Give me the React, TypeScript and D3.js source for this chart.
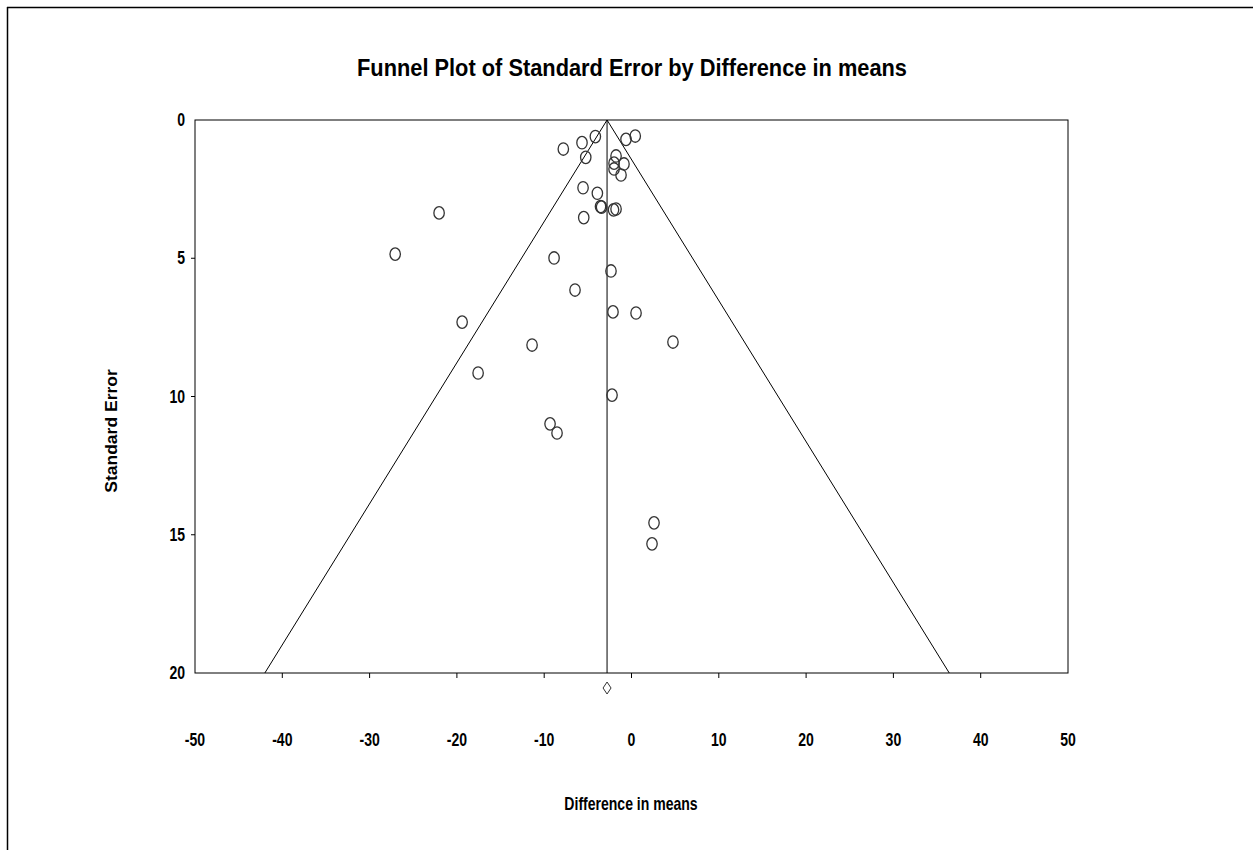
import React from "react";
import * as d3 from "d3";

const xTicks = [-50, -40, -30, -20, -10, 0, 10, 20, 30, 40, 50];
const yTicks = [0, 5, 10, 15, 20];

// Difference in means (x) and standard error (y) of each study
const diffs = [
  0.43, -0.63, -4.14, -5.67, -7.81, -5.24, -1.77, -2.0, -0.86, -2.0, -1.2,
  -5.55, -3.91, -3.55, -3.43, -2.06, -1.77, -22.04, -5.47, -27.07, -8.87,
  -2.35, -6.47, -2.12, 0.52, -19.4, 4.75, -11.39, -17.57, -2.23, -9.33,
  -8.53, 2.58, 2.35,
];
const stdErrs = [
  0.58, 0.7, 0.6, 0.82, 1.05, 1.35, 1.3, 1.56, 1.59, 1.77, 1.99, 2.45, 2.65,
  3.13, 3.15, 3.25, 3.22, 3.36, 3.53, 4.85, 4.99, 5.46, 6.15, 6.94, 6.98,
  7.31, 8.03, 8.14, 9.15, 9.95, 10.99, 11.32, 14.57, 15.33,
];
const pooledMean = -2.8;
const zCrit = 1.96;
const seMax = 20;

const W = 1253;
const H = 850;
const left = 195;
const right = 1068;
const top = 120;
const bottom = 673;
const font = "Arial, 'Liberation Sans', sans-serif";

function CText(props: {
  x: number;
  y: number;
  size: number;
  anchor?: string;
  rotate?: number;
  squeeze?: number;
  children: React.ReactNode;
}) {
  const { x, y, size, anchor = "middle", rotate = 0, squeeze = 0.78, children } = props;
  return (
    <text
      transform={`translate(${x},${y}) rotate(${rotate}) scale(${squeeze},1)`}
      textAnchor={anchor}
      fontFamily={font}
      fontWeight="bold"
      fontSize={size}
      fill="#000"
    >
      {children}
    </text>
  );
}

export default function App() {
  const x = d3.scaleLinear().domain([-50, 50]).range([left, right]);
  const y = d3.scaleLinear().domain([0, 20]).range([top, bottom]);

  const funnel = d3.line<[number, number]>()
    .x((d) => x(d[0]))
    .y((d) => y(d[1]))([
    [pooledMean - zCrit * seMax, seMax],
    [pooledMean, 0],
    [pooledMean + zCrit * seMax, seMax],
  ]);

  const mx = x(pooledMean);
  const dy = bottom + 15;

  return (
    <svg
      width={W}
      height={H}
      style={{ position: "absolute", left: 0, top: 0, background: "#fff" }}
    >
      <rect width={W} height={H} fill="#fff" />
      {/* outer frame (top and left edges visible) */}
      <line x1={7} y1={7.5} x2={W} y2={7.5} stroke="#000" strokeWidth={1.5} />
      <line x1={7.5} y1={7} x2={7.5} y2={H} stroke="#000" strokeWidth={1.5} />

      <text
        x={632}
        y={76}
        textAnchor="middle"
        fontFamily={font}
        fontWeight="bold"
        fontSize={24}
        textLength={550}
        lengthAdjust="spacingAndGlyphs"
      >
        Funnel Plot of Standard Error by Difference in means
      </text>

      <rect
        x={left}
        y={top}
        width={right - left}
        height={bottom - top}
        fill="none"
        stroke="#000"
        strokeWidth={1}
      />

      {/* funnel lines */}
      <path d={funnel ?? ""} fill="none" stroke="#000" strokeWidth={1} />
      <line x1={mx} y1={y(0)} x2={mx} y2={y(seMax)} stroke="#000" strokeWidth={1} />

      {/* x ticks */}
      {xTicks.map((t) => (
        <g key={"x" + t}>
          {t > -50 && t < 50 && (
            <line x1={x(t)} x2={x(t)} y1={bottom} y2={bottom + 5} stroke="#000" />
          )}
          <CText x={x(t)} y={746} size={18}>
            {t}
          </CText>
        </g>
      ))}

      {/* y ticks */}
      {yTicks.map((t) => (
        <g key={"y" + t}>
          {t > 0 && t < 20 && (
            <line x1={left - 4} x2={left} y1={y(t)} y2={y(t)} stroke="#000" />
          )}
          <CText x={185} y={y(t) + 6} size={18} anchor="end">
            {t}
          </CText>
        </g>
      ))}

      {/* points */}
      {diffs.map((d, i) => (
        <ellipse
          key={"p" + i}
          cx={x(d)}
          cy={y(stdErrs[i])}
          rx={5.2}
          ry={6.2}
          fill="none"
          stroke="#333"
          strokeWidth={1.3}
        />
      ))}

      {/* pooled estimate diamond */}
      <path
        d={`M${mx},${dy - 6}L${mx + 4},${dy}L${mx},${dy + 6}L${mx - 4},${dy}Z`}
        fill="none"
        stroke="#333"
        strokeWidth={1}
      />

      <CText x={631} y={810} size={18}>
        Difference in means
      </CText>
      <CText x={117} y={431} size={17} rotate={-90} squeeze={1.03}>
        Standard Error
      </CText>
    </svg>
  );
}
